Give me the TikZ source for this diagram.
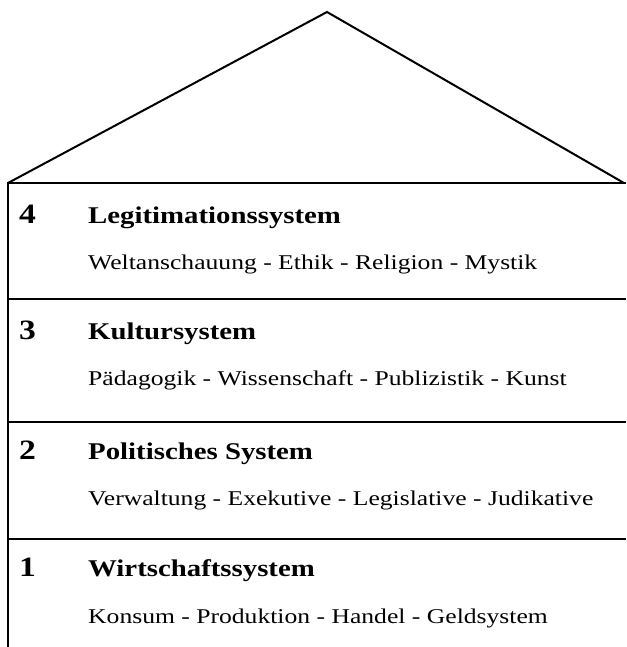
\documentclass[tikz,border=0pt]{standalone}
\usepackage{fontspec}
\setmainfont{Liberation Serif}[FakeStretch=1.22]
\newfontfamily\titlefont{Liberation Serif}[FakeStretch=1.2]
\begin{document}
\begin{tikzpicture}[x=1pt,y=-1pt,
  wall/.style={line width=2.4pt, black, line join=miter},
  roof/.style={line width=2pt, black, line join=miter},
  num/.style={anchor=base west, inner sep=0pt, font=\titlefont\fontsize{28}{30}\selectfont\bfseries},
  ttl/.style={anchor=base west, inner sep=0pt, font=\titlefont\fontsize{24}{27}\selectfont\bfseries},
  sub/.style={anchor=base west, inner sep=0pt, font=\fontsize{21}{24}\selectfont}]
\useasboundingbox (0,0) rectangle (626,647);
% house outline
\draw[roof] (8,183) -- (327,12) -- (624,183);
\draw[wall] (8,647) -- (8,183) -- (626,183);
\draw[wall] (8,299) -- (626,299);
\draw[wall] (8,422) -- (626,422);
\draw[wall] (8,539) -- (626,539);
% section 4
\node[num] (n4) at (19,223) {4};
\node[ttl] (t4) at (88,223) {Legitimationssystem};
\node[sub] (s4) at (88,269) {Weltanschauung - Ethik - Religion - Mystik};
% section 3
\node[num] (n3) at (19,339) {3};
\node[ttl] (t3) at (88,339) {Kultursystem};
\node[sub] (s3) at (88,385) {Pädagogik - Wissenschaft - Publizistik - Kunst};
% section 2
\node[num] (n2) at (19,459) {2};
\node[ttl] (t2) at (88,459) {Politisches System};
\node[sub] (s2) at (88,505) {Verwaltung - Exekutive - Legislative - Judikative};
% section 1
\node[num] (n1) at (19,576) {1};
\node[ttl] (t1) at (88,576) {Wirtschaftssystem};
\node[sub] (s1) at (88,623) {Konsum - Produktion - Handel - Geldsystem};
\end{tikzpicture}
\end{document}
